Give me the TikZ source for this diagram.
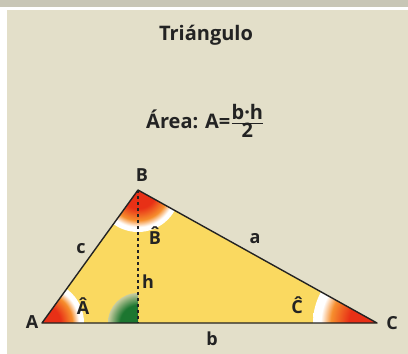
\documentclass[tikz,border=0pt]{standalone}
\usepackage{fontspec}
\setmainfont{Open Sans}
\usepackage{tikz}
\usetikzlibrary{calc}

\definecolor{paper}{RGB}{227,223,201}
\definecolor{topband}{RGB}{200,198,182}
\definecolor{trifill}{RGB}{250,217,96}
\definecolor{edge}{RGB}{35,35,35}
\definecolor{hotred}{RGB}{232,48,22}
\definecolor{hotorange}{RGB}{246,142,45}
\definecolor{deepgreen}{RGB}{28,118,48}
\definecolor{palegreen}{RGB}{200,205,160}

% red to white fade for the angle marks
\pgfdeclareradialshading{anglefade}{\pgfpoint{0bp}{0bp}}{color(0bp)=(hotred); color(11bp)=(hotred); color(18bp)=(hotorange); color(22bp)=(white); color(25bp)=(white); color(50bp)=(white)}
% green fade for the right angle
\pgfdeclareradialshading{rightfade}{\pgfpoint{0bp}{0bp}}{color(0bp)=(deepgreen); color(15bp)=(deepgreen); color(25bp)=(palegreen); color(50bp)=(palegreen)}

% capital with a circumflex set over it
\newcommand\hatlet[1]{\ooalign{#1\cr\hidewidth\raisebox{4pt}{\char"02C6}\hidewidth\cr}}

\begin{document}
\begin{tikzpicture}[
    x=1pt, y=-1pt,
    side/.style={draw=edge, line width=1.4pt, line join=round},
    height/.style={draw=edge, line width=1.3pt, dashed},
    lbl/.style={font=\fontsize{18}{18}\selectfont\bfseries, text=edge, inner sep=0pt, anchor=base},
    title/.style={font=\fontsize{20}{20}\selectfont\bfseries, text=edge, inner sep=0pt, anchor=base}
]
% page and paper
\fill[white] (0,0) rectangle (408,354);
\fill[topband] (0,0) rectangle (408,7);
\fill[paper] (7,10) rectangle (408,354);

\coordinate (A) at (42,323);
\coordinate (B) at (138,190);
\coordinate (C) at (377,323);
\coordinate (H) at (138,323);

\fill[trifill] (A) -- (B) -- (C) -- cycle;

% angle marks
\begin{scope}
  \clip (A) -- (B) -- (C) -- cycle;
  \shade[shading=anglefade] (A) circle (42pt);
  \shade[shading=anglefade] (B) circle (42pt);
  \shade[shading=anglefade] (C) circle (64pt);
  \begin{scope}
    \clip ($(H)+(-40,0)$) rectangle ($(H)+(0,-40)$);
    \shade[shading=rightfade] (H) circle (30pt);
  \end{scope}
\end{scope}

\draw[side] (A) -- (B) -- (C) -- cycle;
\draw[height] (B) -- (H);

% texts
\node[title] (titulo) at (206,40) {Triángulo};
\node[title, anchor=base west] (area) at (146,128) {Área: A=$\frac{\mbox{b·h}}{\mbox{2}}$};

\node[lbl] (labA) at (32,328) {A};
\node[lbl] (labB) at (142,181) {B};
\node[lbl] (labC) at (392,329) {C};
\node[lbl] (laba) at (255,243) {a};
\node[lbl] (labb) at (212,345) {b};
\node[lbl] (labc) at (81,253) {c};
\node[lbl] (labh) at (148,288) {h};
\node[lbl] (angA) at (83,314) {Â};
\node[lbl] (angB) at (155,244) {\hatlet{B}};
\node[lbl] (angC) at (297,313) {Ĉ};
\end{tikzpicture}
\end{document}
